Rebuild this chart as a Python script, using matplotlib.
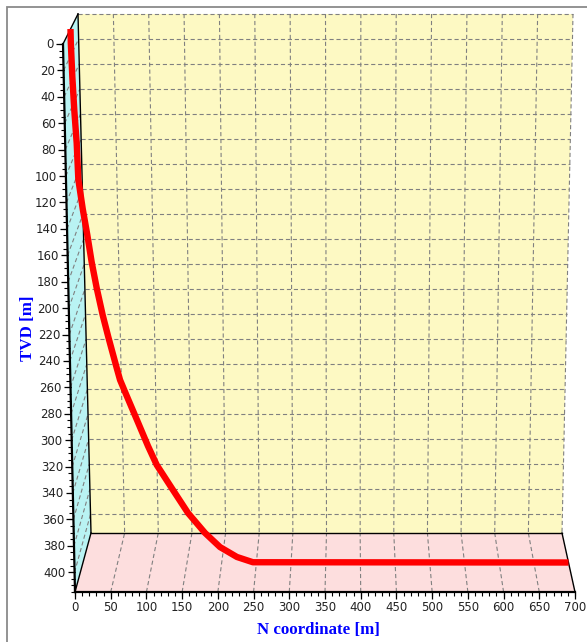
import numpy as np
import matplotlib
matplotlib.use("Agg")
import matplotlib.pyplot as plt
from matplotlib.transforms import Transform, offset_copy
from matplotlib.patches import Polygon
from matplotlib import markers

plt.rcParams["lines.scale_dashes"] = False

# ---------------- data ----------------
north = [0, 0, 1, 2.6, 4.9, 6, 11.2, 16.8, 22, 28.3, 35.9, 43.2, 54.2, 58.6,
         66.6, 81.6, 96.6, 108.6, 131.3, 152.4, 176.4, 197.8, 222, 245, 700]
tvd = [0, 11, 37.5, 63, 89, 117, 140, 160.3, 181.2, 201.5, 222.5, 239.6, 263.7,
       273, 284, 304.2, 324.4, 339.1, 358.6, 376.5, 392, 403, 410.7, 414.8, 415]
n_ticks = list(range(0, 701, 50))
tvd_ticks = list(range(0, 401, 20))
n_minor = list(range(0, 701, 10))
tvd_minor = list(range(0, 416, 5))

N_MIN, N_MAX = 0, 700
T_MIN, T_MAX = min(tvd), max(tvd)

# ---------------- 3D box geometry (pixel corners of the TeeChart-like box) -----
W, H = 587, 642
FRONT = {"tl": (63, 44), "tr": (587, 44), "bl": (75, 592), "br": (575, 592)}
BACK = {"tl": (78, 14), "tr": (573, 14), "bl": (91, 533), "br": (562, 533)}


def _bil(c, u, v):
    tl, tr, bl, br = [np.array(c[k], float) for k in ("tl", "tr", "bl", "br")]
    top = tl[None, :] + (tr - tl)[None, :] * u[:, None]
    bot = bl[None, :] + (br - bl)[None, :] * u[:, None]
    return top + (bot - top) * v[:, None]


def box_xy(u, v, w):
    f = _bil(FRONT, u, v)
    b = _bil(BACK, u, v)
    return f * (1 - w[:, None]) + b * w[:, None]


class Box3D(Transform):
    """Maps chart values on one plane of the 3D box to pixel coordinates."""
    input_dims = output_dims = 2
    is_separable = False
    has_inverse = False

    def __init__(self, plane, fixed):
        super().__init__()
        self.plane = plane
        self.fixed = fixed

    def transform_non_affine(self, values):
        values = np.asarray(values, float).reshape(-1, 2)
        a, b = values[:, 0], values[:, 1]
        if self.plane == "depth":      # (N, TVD) at depth fixed
            u = (a - N_MIN) / (N_MAX - N_MIN)
            v = (b - T_MIN) / (T_MAX - T_MIN)
            w = np.full_like(u, self.fixed)
        elif self.plane == "side":     # (depth, TVD) at N fixed
            w = a
            v = (b - T_MIN) / (T_MAX - T_MIN)
            u = np.full_like(w, (self.fixed - N_MIN) / (N_MAX - N_MIN))
        else:                          # floor: (N, depth) at TVD fixed
            u = (a - N_MIN) / (N_MAX - N_MIN)
            w = b
            v = np.full_like(u, (self.fixed - T_MIN) / (T_MAX - T_MIN))
        return box_xy(u, v, w)


fig = plt.figure(figsize=(W / 100, H / 100), dpi=100)
fig.patch.set_facecolor("white")
ax = fig.add_axes([0, 0, 1, 1])
ax.set_xlim(0, W)
ax.set_ylim(H, 0)
ax.axis("off")

front = Box3D("depth", 0.0) + ax.transData
middle = Box3D("depth", 0.5) + ax.transData
back = Box3D("depth", 1.0) + ax.transData
left = Box3D("side", N_MIN) + ax.transData
floor = Box3D("floor", T_MAX) + ax.transData

YELLOW = "#fdf9c3"
CYAN = "#b9f3f3"
PINK = "#fddede"
GRID = "#808080"
DASH = (0, (3.0, 2.0))

# walls
ax.add_patch(Polygon([(N_MIN, T_MIN), (N_MAX, T_MIN), (N_MAX, T_MAX), (N_MIN, T_MAX)],
                     closed=True, facecolor=YELLOW, edgecolor="none", transform=back, zorder=1))
ax.add_patch(Polygon([(0, T_MIN), (1, T_MIN), (1, T_MAX), (0, T_MAX)],
                     closed=True, facecolor=CYAN, edgecolor="none", transform=left, zorder=1))
ax.add_patch(Polygon([(N_MIN, 0), (N_MAX, 0), (N_MAX, 1), (N_MIN, 1)],
                     closed=True, facecolor=PINK, edgecolor="none", transform=floor, zorder=1))

# grids
for n in n_ticks[1:]:
    ax.plot([n, n], [T_MIN, T_MAX], color=GRID, lw=0.8, ls=DASH, transform=back, zorder=2)
for t in tvd_ticks:
    ax.plot([N_MIN, N_MAX], [t, t], color=GRID, lw=0.8, ls=DASH, transform=back, zorder=2)
for n in n_ticks[1:-1]:
    ax.plot([n, n], [0, 1], color=GRID, lw=0.8, ls=DASH, transform=floor, zorder=2)
for t in tvd_ticks[1:]:
    ax.plot([0, 1], [t, t], color=GRID, lw=0.8, ls=DASH, transform=left, zorder=2)

# box edges
ax.plot([N_MIN, N_MIN], [T_MIN, T_MAX], color="black", lw=1.0, transform=back, zorder=3)
ax.plot([N_MIN, N_MAX], [T_MAX, T_MAX], color="black", lw=1.0, transform=back, zorder=3)
ax.plot([0, 1], [T_MIN, T_MIN], color="black", lw=1.0, transform=left, zorder=3)
ax.plot([0, 1], [T_MAX, T_MAX], color="black", lw=1.0, transform=left, zorder=3)
ax.plot([N_MAX, N_MAX], [0, 1], color="black", lw=1.0, transform=floor, zorder=3)

# series
ax.plot(north, tvd, color="#ff0000", lw=4.6, transform=middle, zorder=4,
        solid_joinstyle="round", solid_capstyle="butt")

# front axes
ax.plot([N_MIN, N_MIN], [T_MIN, T_MAX], color="black", lw=1.6, transform=front, zorder=5)
ax.plot([N_MIN, N_MAX], [T_MAX, T_MAX], color="black", lw=1.6, transform=front, zorder=5)

ax.plot([N_MIN] * len(tvd_minor), tvd_minor, ls="none", marker=markers.TICKLEFT,
        ms=3, mew=0.8, color="black", transform=front, zorder=5)
ax.plot([N_MIN] * len(tvd_ticks), tvd_ticks, ls="none", marker=markers.TICKLEFT,
        ms=5, mew=0.9, color="black", transform=front, zorder=5)
ax.plot(n_minor, [T_MAX] * len(n_minor), ls="none", marker=markers.TICKDOWN,
        ms=3, mew=0.8, color="black", transform=front, zorder=5)
ax.plot(n_ticks, [T_MAX] * len(n_ticks), ls="none", marker=markers.TICKDOWN,
        ms=5, mew=0.9, color="black", transform=front, zorder=5)

ylab_tr = offset_copy(front, fig=fig, x=-9, y=-1, units="dots")
for t in tvd_ticks:
    ax.text(N_MIN, t, str(t), transform=ylab_tr, ha="right", va="center",
            fontsize=8.5, color="#222222", family="DejaVu Sans", zorder=6)
xlab_tr = offset_copy(front, fig=fig, x=0, y=-9, units="dots")
for n in n_ticks:
    ax.text(n, T_MAX, str(n), transform=xlab_tr, ha="center", va="top",
            fontsize=8.5, color="#222222", family="DejaVu Sans", zorder=6)

# axis titles
ax.text(318, 630, "N coordinate [m]", ha="center", va="center", fontsize=12.2,
        fontweight="bold", family="Liberation Serif", color="#0000ff")
ax.text(28, 328, "TVD [m]", ha="center", va="center", rotation=90, fontsize=12.2,
        fontweight="bold", family="Liberation Serif", color="#0000ff")

# panel border
ax.plot([7, 7, W + 5], [H + 5, 7, 7], color="#8a8a8a", lw=1.3, zorder=6,
        solid_joinstyle="miter")

fig.savefig("out.png", dpi=100, facecolor="white")
